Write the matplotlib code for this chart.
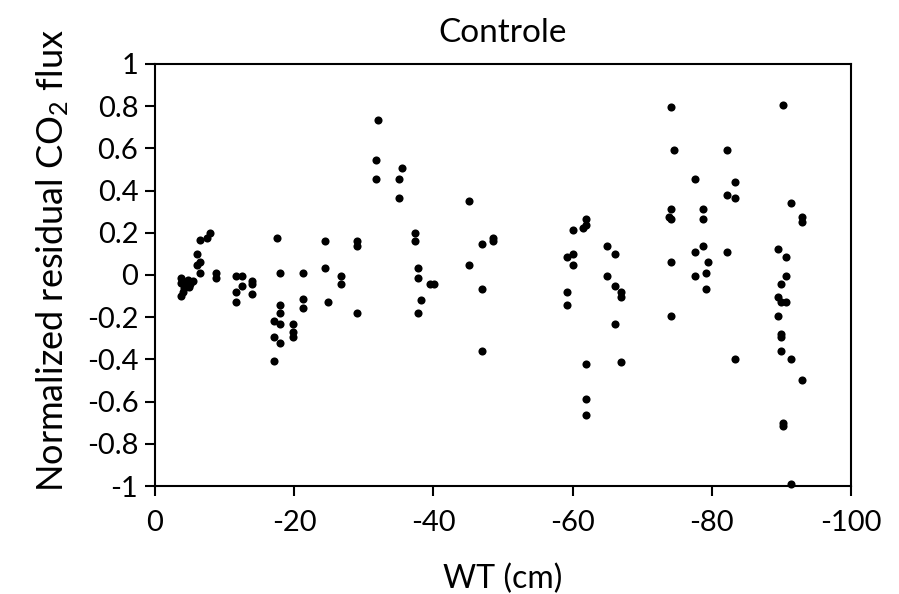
import matplotlib
matplotlib.use("Agg")
import matplotlib.pyplot as plt

plt.rcParams['font.family'] = ['Lato', 'DejaVu Sans']
plt.rcParams['mathtext.default'] = 'regular'
plt.rcParams['axes.unicode_minus'] = False

# water table depth (cm) and normalized residual CO2 flux
wt = [-3.7, -3.7, -3.7, -4.0, -4.3, -4.8, -4.9, -5.5, -6.0, -6.0, -6.4, -6.4, -6.4, -7.5, -7.9, -8.7, -8.7, -4.2, -5.0,
      -11.7, -12.5, -12.5, -11.7, -11.7, -14.0, -14.0, -14.0,
      -17.5, -17.9, -17.9, -17.9, -17.1, -17.9, -17.1, -17.9, -17.1, -19.8, -19.8, -19.8, -21.3, -21.3, -21.3,
      -24.4, -24.4, -24.8, -26.7, -26.7, -29.0, -29.0, -29.0,
      -32.0, -31.7, -31.7, -35.5, -35.1, -35.1, -37.4, -37.4, -37.8, -37.8, -39.5, -40.1, -38.2, -37.8,
      -45.1, -45.1, -47.0, -48.5, -48.5, -47.0, -47.0,
      -61.9, -61.9, -61.5, -60.0, -60.0, -59.2, -60.0, -59.2, -59.2, -61.9, -61.9, -61.9,
      -65.0, -66.1, -65.0, -66.1, -66.9, -66.9, -66.1, -66.9,
      -74.2, -74.6, -74.2, -73.8, -74.2, -74.2, -74.2, -77.6, -77.6, -77.6,
      -78.8, -78.8, -78.8, -79.5, -79.1, -79.1,
      -82.2, -83.4, -82.2, -83.4, -82.2, -83.4,
      -90.3, -91.4, -93.0, -93.0, -89.5, -90.7, -90.7, -89.9, -89.5, -89.9, -90.7, -89.5,
      -89.9, -89.9, -89.9, -91.4, -93.0, -90.3, -90.3, -91.4]
resid = [-0.014, -0.038, -0.101, -0.081, -0.032, -0.022, -0.059, -0.030, 0.099, 0.048, 0.061, 0.010, 0.164, 0.175, 0.200, 0.010, -0.016, -0.060, -0.045,
         -0.003, -0.003, -0.051, -0.080, -0.130, -0.027, -0.043, -0.090,
         0.176, 0.010, -0.143, -0.181, -0.219, -0.232, -0.295, -0.320, -0.408, -0.232, -0.270, -0.295, 0.010, -0.114, -0.155,
         0.162, 0.035, -0.130, -0.003, -0.041, 0.162, 0.137, -0.181,
         0.733, 0.543, 0.454, 0.505, 0.454, 0.365, 0.200, 0.162, 0.035, -0.016, -0.041, -0.041, -0.117, -0.181,
         0.352, 0.048, 0.149, 0.175, 0.162, -0.067, -0.359,
         0.263, 0.238, 0.225, 0.213, 0.099, 0.086, 0.048, -0.079, -0.143, -0.422, -0.587, -0.663,
         0.137, 0.099, -0.003, -0.054, -0.079, -0.105, -0.232, -0.410,
         0.797, 0.594, 0.314, 0.276, 0.263, 0.060, -0.194, 0.454, 0.111, -0.003,
         0.314, 0.263, 0.137, 0.060, 0.010, -0.067,
         0.594, 0.441, 0.378, 0.365, 0.111, -0.397,
         0.806, 0.340, 0.276, 0.251, 0.124, 0.086, -0.003, -0.041, -0.105, -0.130, -0.130, -0.194,
         -0.282, -0.295, -0.359, -0.397, -0.499, -0.701, -0.714, -0.990]

x_ticks = [0, -20, -40, -60, -80, -100]
y_ticks = [1, 0.8, 0.6, 0.4, 0.2, 0, -0.2, -0.4, -0.6, -0.8, -1]
y_labels = ['1', '0.8', '0.6', '0.4', '0.2', '0', '-0.2', '-0.4', '-0.6', '-0.8', '-1']

fig = plt.figure(figsize=(8.99, 5.94), dpi=100)
ax = fig.add_axes([0.1724, 0.1818, 0.7742, 0.7105])

ax.scatter(wt, resid, s=34, color='black', zorder=3, clip_on=False, linewidths=0)

ax.set_xlim(0, -100)
ax.set_ylim(-1, 1)
ax.set_xticks(x_ticks)
ax.set_xticklabels([str(t) for t in x_ticks])
ax.set_yticks(y_ticks)
ax.set_yticklabels(y_labels)

for s in ax.spines.values():
    s.set_linewidth(1.5)
ax.tick_params(direction='out', length=7, width=1.5, labelsize=21)
ax.tick_params(axis='x', pad=10)
ax.tick_params(axis='y', pad=5)

ax.set_xlabel('WT (cm)', fontsize=23, labelpad=20)
ax.set_ylabel('Normalized residual CO$_2$ flux', fontsize=26, labelpad=11)
# label sits a little above the axes centre in the original
ax.yaxis.label.set_y(0.535)
ax.set_title('Controle', fontsize=24, pad=16)

plt.savefig('out.png', dpi=100)
